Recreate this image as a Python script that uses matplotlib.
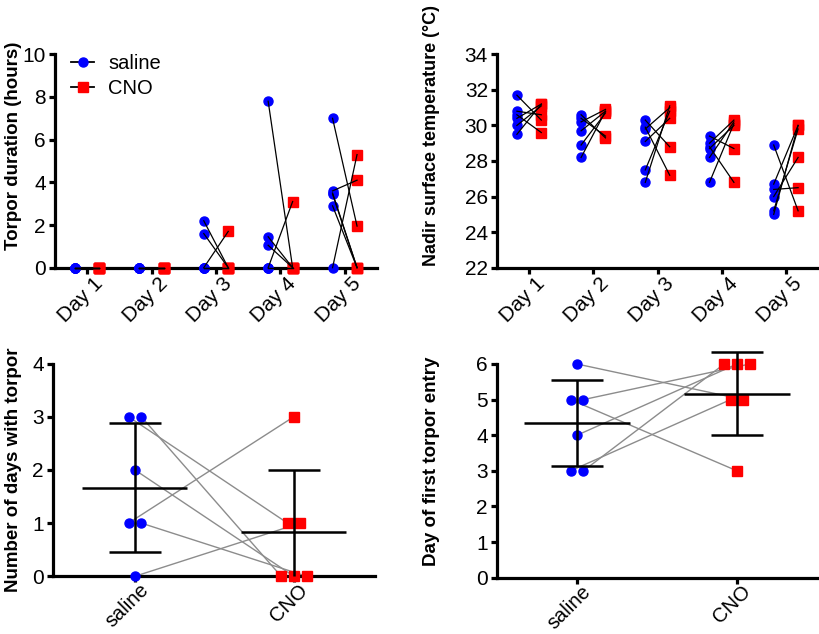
import matplotlib
matplotlib.use("Agg")
import matplotlib.pyplot as plt
import matplotlib.transforms as mtransforms
from matplotlib.lines import Line2D
import numpy as np

plt.rcParams['font.family'] = ['Liberation Sans', 'DejaVu Sans']

# data ---------------------------------------------------------------
days = ["Day 1", "Day 2", "Day 3", "Day 4", "Day 5"]

# torpor duration (hours), one value per animal, paired saline -> CNO
torpor_saline = [
    [0, 0, 0, 0, 0, 0],
    [0, 0, 0, 0, 0, 0],
    [2.2, 1.6, 0, 0, 0, 0],
    [7.8, 1.45, 1.05, 0, 0, 0],
    [7.0, 3.6, 3.5, 3.45, 2.9, 0],
]
torpor_cno = [
    [0, 0, 0, 0, 0, 0],
    [0, 0, 0, 0, 0, 0],
    [0, 0, 1.7, 0, 0, 0],
    [0, 0, 0, 3.1, 0, 0],
    [1.95, 4.1, 0, 0, 0, 5.3],
]

# nadir surface temperature (deg C), paired saline -> CNO
temp_saline = [
    [31.7, 30.8, 30.6, 30.4, 30.0, 29.5],
    [30.6, 30.4, 30.2, 29.7, 28.9, 28.2],
    [30.3, 29.9, 29.8, 29.1, 27.5, 26.8],
    [29.4, 29.0, 28.8, 28.7, 28.2, 26.8],
    [28.9, 26.7, 26.4, 26.0, 25.2, 25.0],
]
temp_cno = [
    [30.3, 30.6, 29.6, 31.2, 31.1, 31.2],
    [29.3, 29.4, 30.9, 30.8, 30.7, 30.8],
    [28.8, 27.2, 31.0, 30.4, 30.8, 31.1],
    [28.7, 30.3, 26.8, 30.0, 30.2, 30.1],
    [25.2, 30.0, 26.5, 28.2, 29.8, 30.0],
]

groups = ["saline", "CNO"]
ndays_saline = [3, 3, 2, 1, 1, 0]
ndays_cno = [1, 0, 0, 3, 0, 1]
first_saline = [3, 3, 4, 5, 5, 6]
first_cno = [5, 6, 6, 3, 6, 5]

blue = '#0000ff'
red = '#ff0000'
TICK_FS = 15
LAB_FS = 13.5
# --------------------------------------------------------------------

fig = plt.figure(figsize=(8.2, 6.34), dpi=100)
fig.patch.set_facecolor('white')

W, H = 820, 634
def px_axes(x0, x1, ytop, ybot):
    return fig.add_axes([x0 / W, 1 - ybot / H, (x1 - x0) / W, (ybot - ytop) / H])

ax1 = px_axes(55, 377, 54.3, 267.7)
ax2 = px_axes(497, 818, 54.3, 267.7)
ax3 = px_axes(53, 375, 363.5, 576.3)
ax4 = px_axes(497, 817, 364, 577.7)


def style(ax, xlab, ly):
    for s in ['top', 'right']:
        ax.spines[s].set_visible(False)
    for s in ['left', 'bottom']:
        ax.spines[s].set_linewidth(2.3)
    ax.tick_params(width=2.3, length=4.5, labelsize=TICK_FS, pad=2)
    ax.tick_params(axis='x', labelbottom=False)
    ax.yaxis.set_label_coords(xlab, ly)


def rot_labels(ax, pos, labels, dx=13, dy=-13, fs=TICK_FS):
    off = mtransforms.ScaledTranslation(dx / 100, dy / 100, fig.dpi_scale_trans)
    tr = mtransforms.blended_transform_factory(ax.transData, ax.transAxes) + off
    for p, lab in zip(pos, labels):
        ax.text(p, 0, lab, transform=tr, rotation=45, ha='right', va='center',
                rotation_mode='anchor', fontsize=fs)


def spread(vals, step=0.08):
    vals = np.asarray(vals, dtype=float)
    out = np.zeros(len(vals))
    for v in np.unique(vals):
        idx = np.where(vals == v)[0]
        n = len(idx)
        out[idx] = (np.arange(n) - (n - 1) / 2) * step
    return out


# top panels: paired per day
def paired_days(ax, sal, cno):
    for i in range(len(days)):
        xs = i + 1 - 0.19
        xc = i + 1 + 0.19
        s = np.array(sal[i])
        c = np.array(cno[i])
        for a, b in zip(s, c):
            ax.plot([xs, xc], [a, b], color='black', lw=0.9, zorder=4,
                    clip_on=False)
        ax.plot(np.full(len(s), xs), s, 'o', color=blue, ms=6.5, mec=blue,
                zorder=3, clip_on=False)
        ax.plot(np.full(len(c), xc), c, 's', color=red, ms=6.5, mec=red,
                zorder=3, clip_on=False)
    ax.set_xlim(0.5, 5.5)
    ax.set_xticks(range(1, 6))
    rot_labels(ax, range(1, 6), days)


paired_days(ax1, torpor_saline, torpor_cno)
ax1.set_ylim(0, 10)
ax1.set_yticks(range(0, 11, 2))
ax1.set_ylabel("Torpor duration (hours)", fontsize=LAB_FS, fontweight='bold')
style(ax1, -0.102, 0.57)
handles = [Line2D([], [], color='black', lw=1.3, marker='o', mfc=blue, mec=blue, ms=6.5),
           Line2D([], [], color='black', lw=1.3, marker='s', mfc=red, mec=red, ms=6.5)]
ax1.legend(handles, ["saline", "CNO"], loc='upper left', bbox_to_anchor=(0.05, 1.0),
           frameon=False, fontsize=14.5, handlelength=1.15, handletextpad=0.7,
           borderpad=0, borderaxespad=0, labelspacing=0.3)

paired_days(ax2, temp_saline, temp_cno)
ax2.set_ylim(22, 34)
ax2.set_yticks(range(22, 35, 2))
ax2.set_ylabel("Nadir surface temperature (°C)", fontsize=13,
               fontweight='bold')
style(ax2, -0.178, 0.62)


# bottom panels: saline vs CNO with mean +/- SD
def paired_groups(ax, sal, cno, ymin):
    sal = np.array(sal, dtype=float)
    cno = np.array(cno, dtype=float)
    xs = 0 + spread(sal)
    xc = 1 + spread(cno)
    for a, b, c, d in zip(xs, sal, xc, cno):
        ax.plot([a, c], [b, d], color='#8c8c8c', lw=1.0, zorder=2, clip_on=False)
    ax.plot(xs, sal, 'o', color=blue, ms=6.5, zorder=3, clip_on=False)
    ax.plot(xc, cno, 's', color=red, ms=6.5, zorder=3, clip_on=False)
    for x0, v in [(0, sal), (1, cno)]:
        m = v.mean()
        sd = v.std(ddof=1)
        lo = max(m - sd, ymin)
        kw = dict(color='black', lw=1.8, zorder=5, clip_on=False,
                  solid_capstyle='butt')
        ax.plot([x0 - 0.33, x0 + 0.33], [m, m], **kw)
        ax.plot([x0, x0], [lo, m + sd], **kw)
        ax.plot([x0 - 0.165, x0 + 0.165], [m + sd, m + sd], **kw)
        if m - sd >= ymin:
            ax.plot([x0 - 0.165, x0 + 0.165], [lo, lo], **kw)
    ax.set_xticks([0, 1])
    rot_labels(ax, [0, 1], groups, dx=11, dy=-11, fs=14.5)


paired_groups(ax3, ndays_saline, ndays_cno, 0)
ax3.set_xlim(-0.515, 1.51)
ax3.set_ylim(0, 4)
ax3.set_yticks(range(0, 5))
ax3.set_ylabel("Number of days with torpor", fontsize=LAB_FS, fontweight='bold')
style(ax3, -0.096, 0.5)

paired_groups(ax4, first_saline, first_cno, 0)
ax4.set_xlim(-0.5, 1.5)
ax4.set_ylim(0, 6)
ax4.set_yticks(range(0, 7))
ax4.set_ylabel("Day of first torpor entry", fontsize=LAB_FS, fontweight='bold')
style(ax4, -0.178, 0.545)

fig.savefig("out.png", dpi=100, facecolor='white')
